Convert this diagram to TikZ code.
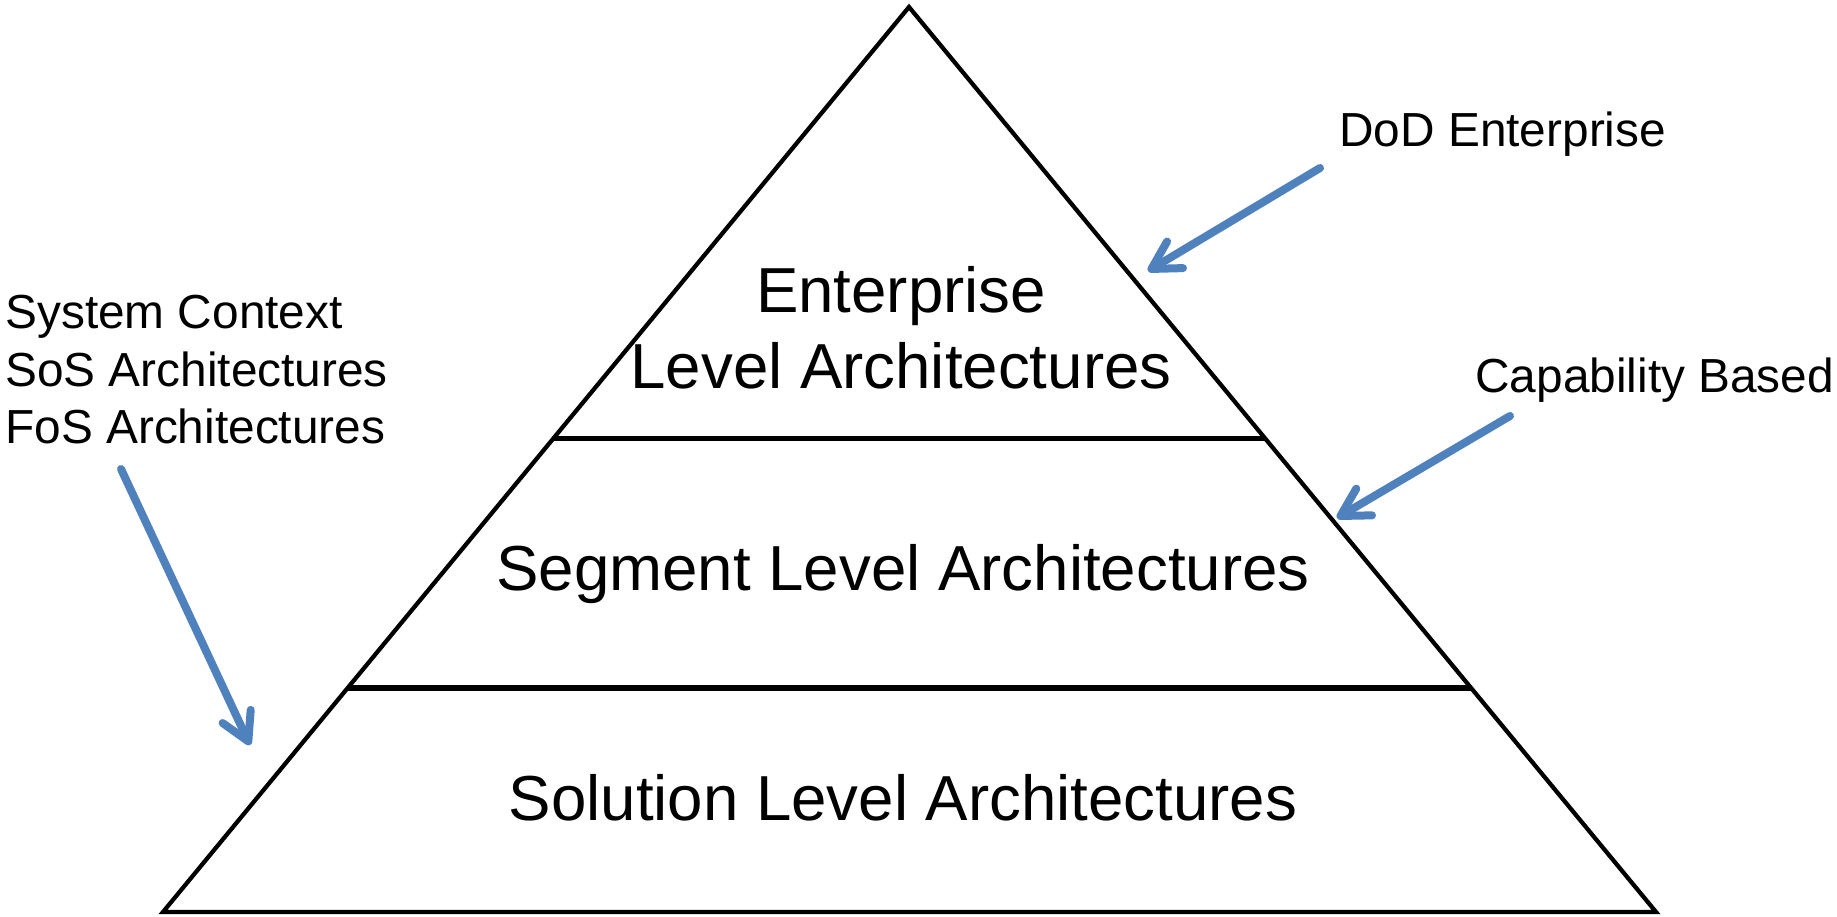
\documentclass[tikz,border=0pt]{standalone}
\usepackage{fontspec}
\setmainfont{Liberation Sans}
\usepackage{tikz}
\usetikzlibrary{calc}
\usetikzlibrary{positioning}
\usetikzlibrary{arrows.meta}
\definecolor{officeblue}{RGB}{79,129,189}
\tikzset{
	edge/.style={line width=0.085cm},
	tier/.style={line width=0.11cm},
	levelname/.style={inner sep=0pt, align=center, font=\fontsize{36.2pt}{43.2pt}\selectfont},
	sidenote/.style={inner sep=0pt, align=left, font=\fontsize{27.2pt}{32.7pt}\selectfont},
	pointer/.style={officeblue, line width=0.16cm, line cap=round, -{Straight Barb[length=0.55cm,width=0.62cm,round]}}
}

\begin{document}
\begin{tikzpicture}
				\useasboundingbox (0,0) rectangle (36.74,18.32);
				\coordinate (A) at (18.18,18.18);
				\coordinate (L) at (3.26,0.08);
				\coordinate (R) at (33.12,0.08);
				
				\draw[edge] (A) -- (L) -- (R) -- cycle;
				\draw[tier] ($(A)!0.477!(L)$) -- ($(A)!0.477!(R)$);
				\draw[tier] ($(A)!0.7525!(L)$) -- ($(A)!0.7525!(R)$);
				
				\node[levelname] (ent) at (18.02,11.76) {Enterprise\\Level Architectures};
				\node[levelname, anchor=base] (seg) at (18.06,6.52) {Segment Level Architectures};
				\node[levelname, anchor=base] (sol) at (18.06,1.92) {Solution Level Architectures};
				
				\node[sidenote, anchor=north west] (ctx) at (0.1,12.42) {System Context\\SoS Architectures\\FoS Architectures};
				\node[sidenote, anchor=base west] (dod) at (26.78,15.38) {DoD Enterprise};
				\node[sidenote, anchor=base west] (cap) at (29.5,10.46) {Capability Based};
				
				\coordinate (ctxtail) at (2.42,8.94);
				\coordinate (ctxtip) at (5.0,3.42);
				\coordinate (dodtail) at (26.4,14.96);
				\coordinate (dodtip) at (22.96,12.9);
				\coordinate (captail) at (30.2,10.0);
				\coordinate (captip) at (26.74,7.96);
				
				\draw[pointer] (ctxtail) -- (ctxtip);
				\draw[pointer] (dodtail) -- (dodtip);
				\draw[pointer] (captail) -- (captip);
			\end{tikzpicture}
\end{document}
